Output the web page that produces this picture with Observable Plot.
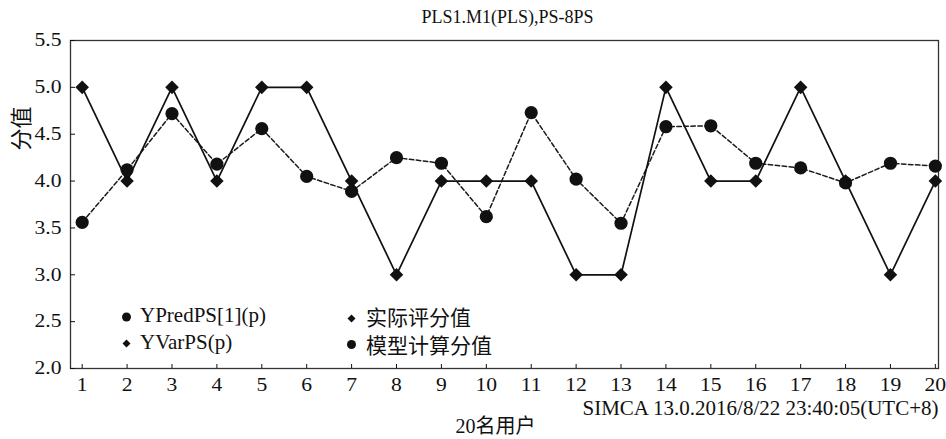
<!DOCTYPE html>
<html>
<head>
<meta charset="utf-8">
<script src="https://cdn.jsdelivr.net/npm/d3@7"></script>
<script src="https://cdn.jsdelivr.net/npm/@observablehq/plot@0.6"></script>
<style>
  html, body { margin: 0; padding: 0; background: #fff; }
  #chart svg { display: block; }
</style>
</head>
<body>
<div id="chart"></div>
<script>
// ---- data ----
const users = [1, 2, 3, 4, 5, 6, 7, 8, 9, 10, 11, 12, 13, 14, 15, 16, 17, 18, 19, 20];
const actualScore = [5, 4, 5, 4, 5, 5, 4, 3, 4, 4, 4, 3, 3, 5, 4, 4, 5, 4, 3, 4];
const predictedScore = [3.56, 4.12, 4.72, 4.18, 4.56, 4.05, 3.89, 4.25, 4.19, 3.62, 4.73, 4.02, 3.55, 4.58, 4.59, 4.19, 4.14, 3.98, 4.19, 4.16];
const yTicks = [2.0, 2.5, 3.0, 3.5, 4.0, 4.5, 5.0, 5.5];
const xTicks = users;
const legendLabels = ["YPredPS[1](p)", "YVarPS(p)", "实际评分值", "模型计算分值"];
const legendSymbols = ["circle", "diamond2", "diamond2", "circle"];
const titleText = "PLS1.M1(PLS),PS-8PS";
const captionText = "SIMCA 13.0.2016/8/22 23:40:05(UTC+8)";
const xLabelText = "20名用户";
const yLabelText = "分值";

const actual = users.map((u, i) => ({user: u, value: actualScore[i]}));
const predicted = users.map((u, i) => ({user: u, value: predictedScore[i]}));

// ---- layout / style ----
const ink = "#111";
const legendLayout = [
  {mdx: 56, mdy: -51.5, tdx: 69.5, tdy: -53},
  {mdx: 56, mdy: -25, tdx: 69.5, tdy: -26.5},
  {mdx: 281, mdy: -50, tdx: 295.5, tdy: -50},
  {mdx: 281, mdy: -24, tdx: 295.5, tdy: -22.5}
];
const legendR = {circle: 4.5, diamond2: 3.6};

const legendMarks = legendLabels.flatMap((label, i) => {
  const L = legendLayout[i];
  return [
    Plot.dot([label], {frameAnchor: "bottom-left", dx: L.mdx, dy: L.mdy,
      symbol: legendSymbols[i], r: legendR[legendSymbols[i]], fill: ink, stroke: "none"}),
    Plot.text([label], {frameAnchor: "bottom-left", dx: L.tdx, dy: L.tdy,
      text: d => d, textAnchor: "start", lineAnchor: "middle", fontSize: 21, fill: ink})
  ];
});

const chart = Plot.plot({
  width: 946,
  height: 439,
  marginLeft: 70,
  marginRight: 8,
  marginTop: 40,
  marginBottom: 71,
  style: {fontFamily: "'Liberation Serif', 'Times New Roman', 'Noto Sans CJK SC', serif", background: "#fff", color: ink},
  x: {domain: [0.74, 20.07], label: null},
  y: {domain: [2, 5.5], label: null},
  marks: [
    Plot.frame({stroke: "#333", strokeWidth: 1.3}),
    Plot.axisY(yTicks, {anchor: "left", tickSize: 5, dx: 5, tickPadding: 9,
      tickFormat: d3.format(".1f"), fontSize: 18, label: null, stroke: ink}),
    Plot.axisX(xTicks, {anchor: "bottom", tickSize: 4, dy: -4, tickPadding: 10,
      tickFormat: d => String(d), fontSize: 18, label: null, stroke: ink}),
    Plot.line(predicted, {x: "user", y: "value", stroke: "#1a1a1a", strokeWidth: 1.5, strokeDasharray: "4.5,2.5"}),
    Plot.line(actual, {x: "user", y: "value", stroke: "#111", strokeWidth: 1.7}),
    Plot.dot(actual, {x: "user", y: "value", symbol: "diamond2", r: 6.1, fill: ink, stroke: "none"}),
    Plot.dot(predicted, {x: "user", y: "value", symbol: "circle", r: 6.6, fill: ink, stroke: "none"}),
    ...legendMarks,
    Plot.text([titleText], {frameAnchor: "top", dx: 3, dy: -23, text: d => d, lineAnchor: "middle",
      fontSize: 18, fill: ink, ariaLabel: "chart-title"}),
    Plot.text([captionText], {frameAnchor: "bottom-right", dx: 0, dy: 40, text: d => d, textAnchor: "end",
      lineAnchor: "middle", fontSize: 21, fill: ink}),
    Plot.text([xLabelText], {frameAnchor: "bottom", dx: -9, dy: 58, text: d => d, lineAnchor: "middle",
      fontSize: 20, fill: ink}),
    Plot.text([yLabelText], {frameAnchor: "left", dx: -49, dy: -54, text: d => d, rotate: -90,
      lineAnchor: "middle", fontSize: 22, fill: ink})
  ]
});

// horizontally widen the Latin tick labels and title, as in the reference typesetting
function widen(selector, k) {
  chart.querySelectorAll(selector).forEach(el => {
    const t = el.getAttribute("transform") || "";
    el.setAttribute("transform", (t + ` scale(${k},1)`).trim());
  });
}
widen('g[aria-label="x-axis tick label"] text', 1.2);
widen('g[aria-label="y-axis tick label"] text', 1.2);
widen('g[aria-label="chart-title"] text', 1.18);

document.getElementById("chart").append(chart);
</script>
</body>
</html>
